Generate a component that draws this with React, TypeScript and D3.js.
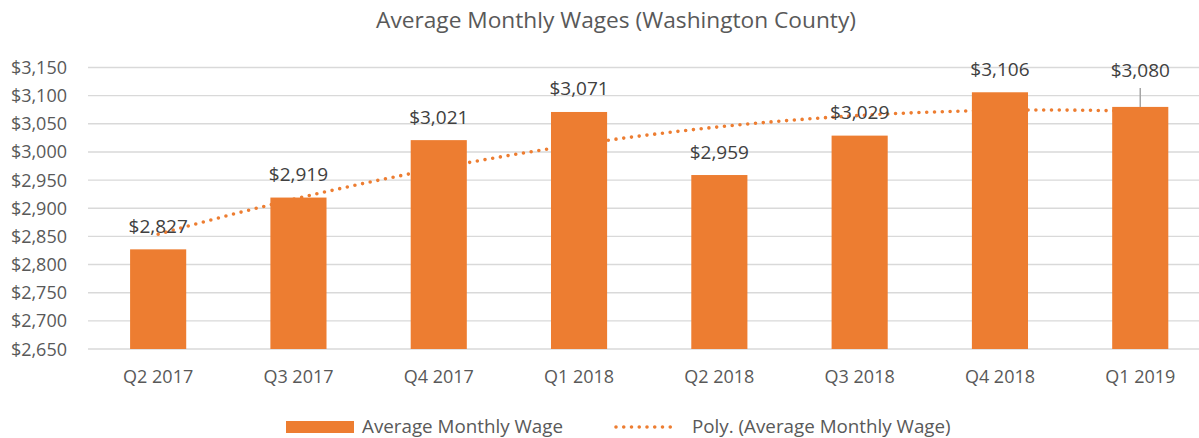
import React from "react";
import * as d3 from "d3";

const categories = ["Q2 2017", "Q3 2017", "Q4 2017", "Q1 2018", "Q2 2018", "Q3 2018", "Q4 2018", "Q1 2019"];
const wages = [2827, 2919, 3021, 3071, 2959, 3029, 3106, 3080];
const yTicks = [2650, 2700, 2750, 2800, 2850, 2900, 2950, 3000, 3050, 3100, 3150];
const title = "Average Monthly Wages (Washington County)";
const seriesName = "Average Monthly Wage";
const trendName = "Poly. (Average Monthly Wage)";

const W = 1199;
const H = 438;
const ORANGE = "#ED7D31";
const FONT = "'Open Sans', sans-serif";

// least-squares polynomial (order 2) fit, like the spreadsheet trendline
function polyFit2(xs: number[], ys: number[]) {
  const n = xs.length;
  const S = (f: (x: number, y: number) => number) => xs.reduce((a, x, i) => a + f(x, ys[i]), 0);
  const s0 = n, s1 = S((x) => x), s2 = S((x) => x * x), s3 = S((x) => x ** 3), s4 = S((x) => x ** 4);
  const t0 = S((x, y) => y), t1 = S((x, y) => x * y), t2 = S((x, y) => x * x * y);
  const M = [
    [s0, s1, s2, t0],
    [s1, s2, s3, t1],
    [s2, s3, s4, t2],
  ];
  for (let i = 0; i < 3; i++) {
    let p = i;
    for (let r = i + 1; r < 3; r++) if (Math.abs(M[r][i]) > Math.abs(M[p][i])) p = r;
    [M[i], M[p]] = [M[p], M[i]];
    for (let r = 0; r < 3; r++) {
      if (r === i) continue;
      const f = M[r][i] / M[i][i];
      for (let c = i; c < 4; c++) M[r][c] -= f * M[i][c];
    }
  }
  const a = M[0][3] / M[0][0], b = M[1][3] / M[1][1], c = M[2][3] / M[2][2];
  return (x: number) => a + b * x + c * x * x;
}

export default function App() {
  const x = d3.scaleBand<string>().domain(categories).range([88, 1210.4]).paddingInner(0.6).paddingOuter(0.3);
  const y = d3.scaleLinear().domain([2650, 3150]).range([349, 67.5]);
  const fmt = d3.format("$,");

  const idx = categories.map((_, i) => i + 1);
  const fit = polyFit2(idx, wages);
  const step = x.step();
  const cx = (i: number) => (x(categories[0]) as number) + x.bandwidth() / 2 + (i - 1) * step;
  const samples = d3.range(1, 8.0001, 0.05);
  const trendPath = d3
    .line<number>()
    .x((t) => cx(t))
    .y((t) => y(fit(t)))
    .curve(d3.curveLinear)(samples) as string;

  // label lifted above the bar with a leader line (last bar)
  const lift: Record<number, number> = { 7: 13 };

  return (
    <svg width={W} height={H} style={{ position: "absolute", left: 0, top: 0, background: "#fff" }} fontFamily={FONT}>
      <rect x={0} y={0} width={W} height={H} fill="#fff" />
      <text x={616} y={28} textAnchor="middle" fontSize={22.7} fill="#595959">
        {title}
      </text>
      {yTicks.map((t) => (
        <g key={t}>
          <line x1={88} x2={W} y1={y(t)} y2={y(t)} stroke="#D9D9D9" strokeWidth={1.4} />
          <text x={67} y={y(t) + 6.5} textAnchor="end" fontSize={18} fill="#595959">
            {fmt(t)}
          </text>
        </g>
      ))}
      <path d={trendPath} fill="none" stroke={ORANGE} strokeWidth={3.6} strokeLinecap="round" strokeDasharray="0 7.8" />
      {wages.map((v, i) => (
        <rect
          key={categories[i]}
          x={x(categories[i])}
          y={y(v)}
          width={x.bandwidth()}
          height={y(2650) - y(v)}
          fill={ORANGE}
        />
      ))}
      {wages.map((v, i) => {
        const px = (x(categories[i]) as number) + x.bandwidth() / 2;
        const l = lift[i] || 0;
        return (
          <g key={"l" + i}>
            {l > 0 && <line x1={px} x2={px} y1={y(v) - l - 6} y2={y(v)} stroke="#A6A6A6" strokeWidth={1.5} />}
            <text x={px} y={y(v) - 16.5 - l} textAnchor="middle" fontSize={19} fill="#404040">
              {fmt(v)}
            </text>
          </g>
        );
      })}
      {categories.map((c) => (
        <text key={c} x={(x(c) as number) + x.bandwidth() / 2} y={383} textAnchor="middle" fontSize={18} fill="#595959">
          {c}
        </text>
      ))}
      <rect x={286} y={421} width={68} height={12} fill={ORANGE} />
      <text x={362} y={433} fontSize={18.8} fill="#595959">
        {seriesName}
      </text>
      <line x1={616} x2={678} y1={427} y2={427} stroke={ORANGE} strokeWidth={3.6} strokeLinecap="round" strokeDasharray="0 7.75" />
      <text x={692} y={433} fontSize={18.8} fill="#595959">
        {trendName}
      </text>
    </svg>
  );
}
